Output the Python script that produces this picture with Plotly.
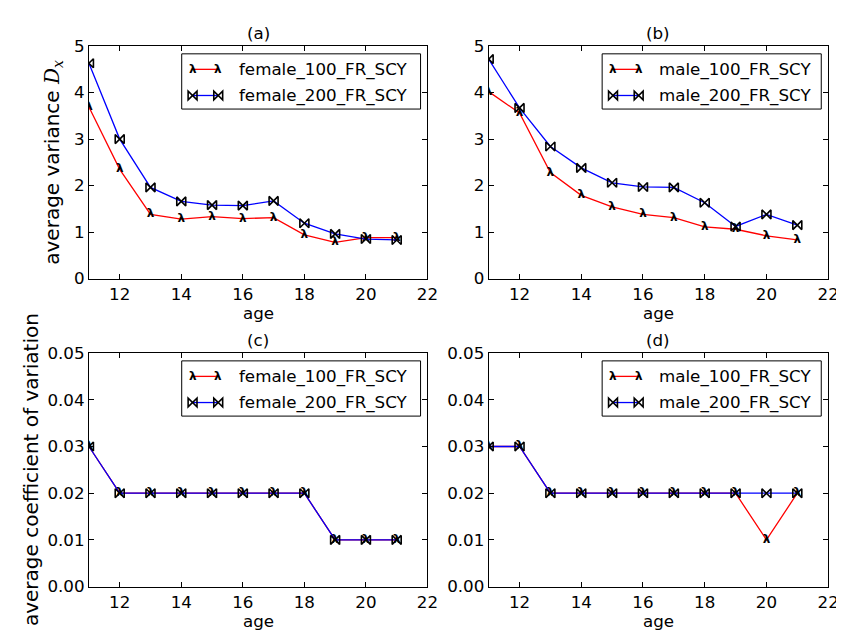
import plotly.graph_objects as go

# ---------------- data ----------------
ages = [11, 12, 13, 14, 15, 16, 17, 18, 19, 20, 21]
x_ticks = [12, 14, 16, 18, 20, 22]
var_ticks = [0, 1, 2, 3, 4, 5]
cv_ticks = [0.00, 0.01, 0.02, 0.03, 0.04, 0.05]

female_100_var = [3.69, 2.35, 1.38, 1.28, 1.33, 1.29, 1.31, 0.94, 0.78, 0.88, 0.88]
female_200_var = [4.63, 3.00, 1.96, 1.66, 1.58, 1.57, 1.67, 1.19, 0.96, 0.85, 0.83]
male_100_var = [4.02, 3.56, 2.28, 1.79, 1.54, 1.38, 1.31, 1.11, 1.06, 0.92, 0.83]
male_200_var = [4.72, 3.67, 2.84, 2.38, 2.06, 1.97, 1.96, 1.63, 1.12, 1.38, 1.15]

female_100_cv = [0.03, 0.02, 0.02, 0.02, 0.02, 0.02, 0.02, 0.02, 0.01, 0.01, 0.01]
female_200_cv = [0.03, 0.02, 0.02, 0.02, 0.02, 0.02, 0.02, 0.02, 0.01, 0.01, 0.01]
male_100_cv = [0.03, 0.03, 0.02, 0.02, 0.02, 0.02, 0.02, 0.02, 0.02, 0.01, 0.02]
male_200_cv = [0.03, 0.03, 0.02, 0.02, 0.02, 0.02, 0.02, 0.02, 0.02, 0.02, 0.02]

names_female = ["female_100_FR_SCY", "female_200_FR_SCY"]
names_male = ["male_100_FR_SCY", "male_200_FR_SCY"]
titles = ["(a)", "(b)", "(c)", "(d)"]

# ---------------- layout geometry ----------------
W, H = 844, 637
FONT = "DejaVu Sans"
TICK_FS = 16.7
LABEL_FS = 20
RED, BLUE = "#ff0000", "#0000ff"
LAMBDA = "λ"
LAMBDA_FS = 12
BOW_SIZE = 9

# pixel boxes of the four axes: (left, right, top, bottom)
boxes = [(82, 425, 29, 269), (487, 831, 29, 269),
         (82, 425, 346, 587), (487, 831, 346, 587)]


def px(x):
    return x / W


def py(y):
    return 1 - y / H


fig = go.Figure()

panels = [
    (female_100_var, female_200_var, names_female, var_ticks, [0, 5], None),
    (male_100_var, male_200_var, names_male, var_ticks, [0, 5], None),
    (female_100_cv, female_200_cv, names_female, cv_ticks, [0, 0.05], ".2f"),
    (male_100_cv, male_200_cv, names_male, cv_ticks, [0, 0.05], ".2f"),
]

shapes = []
annotations = []

for i, (s100, s200, names, yt, yr, fmt) in enumerate(panels):
    k = "" if i == 0 else str(i + 1)
    xa, ya = "x" + k, "y" + k
    L, R, T, B = boxes[i]
    fig.add_trace(go.Scatter(
        x=ages, y=s100, mode="lines+text", text=[LAMBDA] * len(ages),
        textposition="middle center",
        textfont=dict(family=FONT, size=LAMBDA_FS, color="black", weight="bold"),
        line=dict(color=RED, width=1.3), name=names[0], showlegend=False,
        xaxis=xa, yaxis=ya))
    fig.add_trace(go.Scatter(
        x=ages, y=s200, mode="lines+markers",
        marker=dict(symbol="bowtie-open", size=BOW_SIZE, color="black",
                    line=dict(color="black", width=1.6)),
        line=dict(color=BLUE, width=1.3), name=names[1], showlegend=False,
        xaxis=xa, yaxis=ya))

    axis_common = dict(showline=True, linecolor="black", linewidth=1,
                       mirror="ticks", ticks="inside", ticklen=5,
                       tickcolor="black", tickwidth=1, showgrid=False,
                       zeroline=False,
                       tickfont=dict(family=FONT, size=TICK_FS, color="black"))
    fig.update_layout(**{
        "xaxis" + k: dict(domain=[px(L), px(R)], range=[11, 22],
                          tickvals=x_ticks, anchor=ya, **axis_common),
        "yaxis" + k: dict(domain=[py(B), py(T)], range=yr, tickvals=yt,
                          tickformat=fmt, anchor=xa, **axis_common),
    })

    # panel title
    annotations.append(dict(text=titles[i], x=px((L + R) / 2), y=py(T - 1),
                            xref="paper", yref="paper", xanchor="center",
                            yanchor="bottom", showarrow=False,
                            font=dict(family=FONT, size=TICK_FS, color="black")))
    # x label
    annotations.append(dict(text="age", x=px((L + R) / 2), y=py(B + 36),
                            xref="paper", yref="paper", xanchor="center",
                            yanchor="middle", showarrow=False,
                            font=dict(family=FONT, size=TICK_FS, color="black")))

    # manual matplotlib-style legend
    lw = 242 if "female" in names[0] else 222
    bx1 = R - 7
    bx0 = bx1 - lw
    by0 = T + 8
    by1 = by0 + 57
    shapes.append(dict(type="rect", xref="paper", yref="paper",
                       x0=px(bx0), x1=px(bx1), y0=py(by1), y1=py(by0),
                       line=dict(color="black", width=1), fillcolor="white",
                       layer="above"))
    for j, col in enumerate([RED, BLUE]):
        ry = by0 + 16 + 27 * j
        shapes.append(dict(type="line", xref="paper", yref="paper",
                           x0=px(bx0 + 11), x1=px(bx0 + 37), y0=py(ry), y1=py(ry),
                           line=dict(color=col, width=1.3), layer="above"))
        for mx in (bx0 + 11, bx0 + 37):
            if j == 0:
                annotations.append(dict(text=LAMBDA, x=px(mx), y=py(ry), xref="paper",
                                        yref="paper", xanchor="center",
                                        yanchor="middle", showarrow=False,
                                        font=dict(family=FONT, size=LAMBDA_FS,
                                                  color="black", weight="bold")))
            else:
                r = BOW_SIZE / 2
                path = "M {a},{b} L {a},{c} L {d},{b} L {d},{c} Z".format(
                    a=px(mx - r), b=py(ry - r), c=py(ry + r), d=px(mx + r))
                shapes.append(dict(type="path", xref="paper", yref="paper",
                                   path=path, line=dict(color="black", width=1.6),
                                   fillcolor="rgba(0,0,0,0)", layer="above"))
        annotations.append(dict(text=names[j], x=px(bx0 + 56), y=py(ry),
                                xref="paper", yref="paper", xanchor="left",
                                yanchor="middle", showarrow=False,
                                font=dict(family=FONT, size=TICK_FS, color="black")))

# y-axis labels
annotations.append(dict(
    text="average variance <span style='font-family:DejaVu Serif'><i>D</i><sub><i>x</i></sub></span>",
    x=px(46), y=py(149), xref="paper", yref="paper", textangle=-90,
    xanchor="center", yanchor="middle", showarrow=False,
    font=dict(family=FONT, size=LABEL_FS, color="black")))
annotations.append(dict(
    text="average coefficient of variation",
    x=px(24), y=py(466), xref="paper", yref="paper", textangle=-90,
    xanchor="center", yanchor="middle", showarrow=False,
    font=dict(family=FONT, size=LABEL_FS, color="black")))

fig.update_layout(width=W, height=H, margin=dict(l=0, r=0, t=0, b=0),
                  paper_bgcolor="white", plot_bgcolor="white",
                  showlegend=False, shapes=shapes, annotations=annotations)

fig.write_html("out.html")
